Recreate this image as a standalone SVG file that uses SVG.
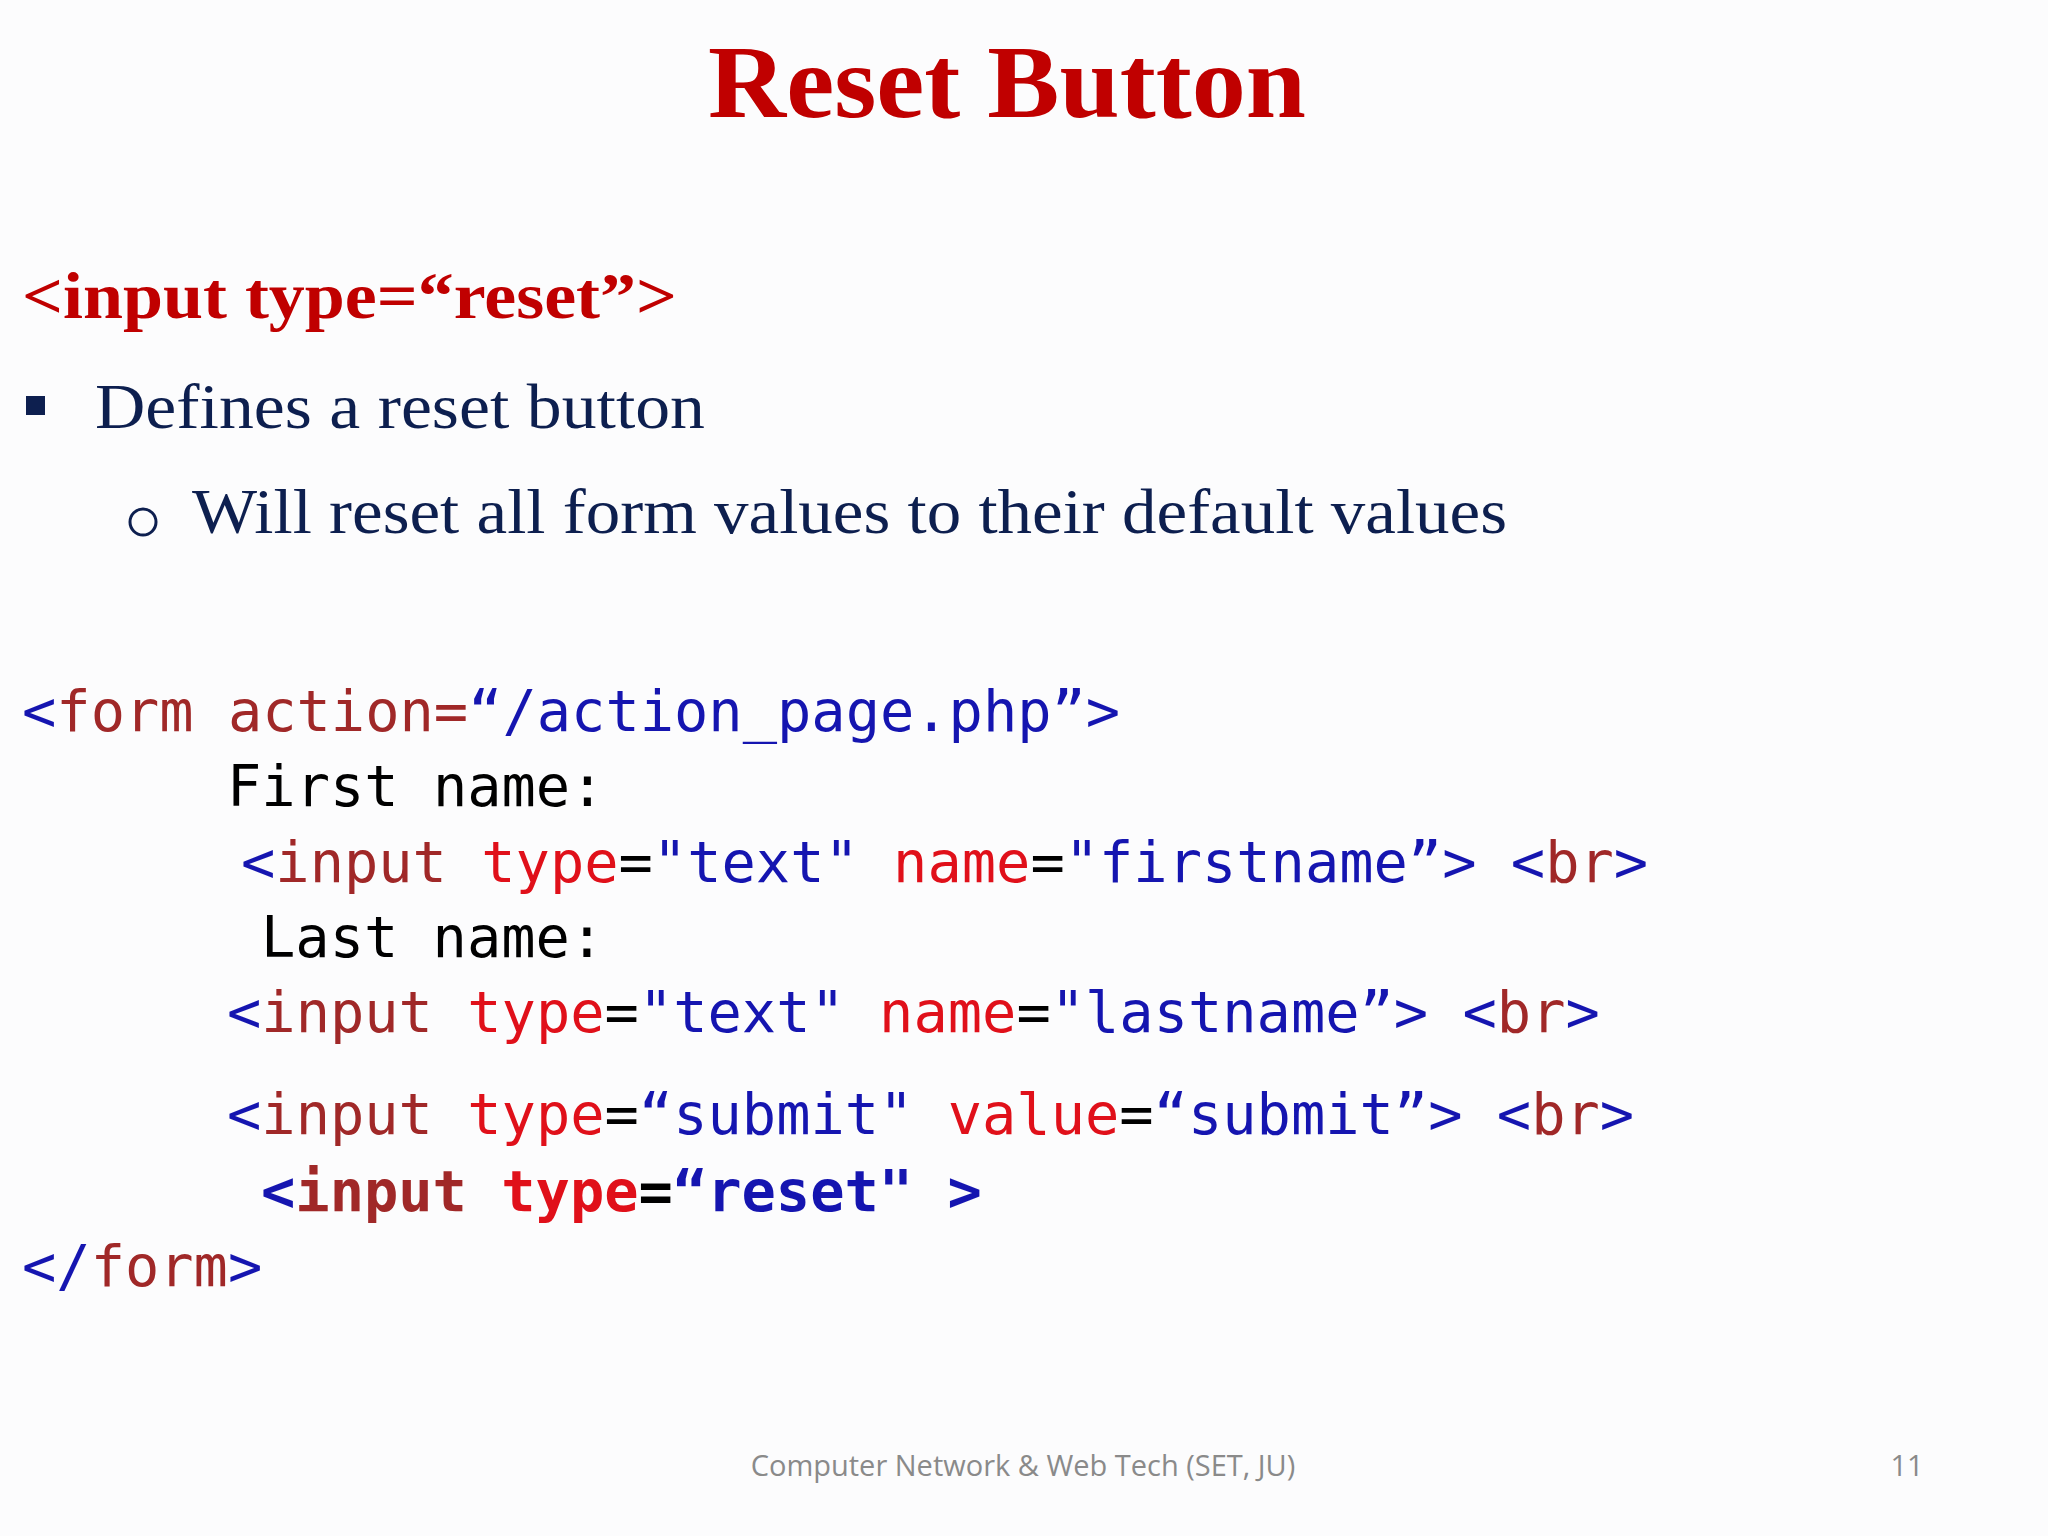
<svg xmlns="http://www.w3.org/2000/svg" width="2048" height="1536" viewBox="0 0 2048 1536">
<style>
.t{font-family:"Liberation Serif",serif}
.c{font-family:"DejaVu Sans Mono","Liberation Mono",monospace;font-size:57px}
.b{fill:#1515b0}.br{fill:#a02828}.r{fill:#e0101a}.k{fill:#000}
</style>
<rect width="2048" height="1536" fill="#fcfcfd"/>
<g id="title"><text class="t" x="708" y="117" textLength="598" lengthAdjust="spacingAndGlyphs" font-size="104" font-weight="bold" fill="#c00000">Reset Button</text></g>
<g id="heading"><text class="t" x="22" y="318" textLength="655" lengthAdjust="spacingAndGlyphs" font-size="66" font-weight="bold" fill="#c00000">&lt;input type=“reset”&gt;</text></g>
<g id="bullets">
<rect x="26" y="396" width="19" height="19" fill="#0d1f4f"/>
<text class="t" x="95" y="428" textLength="610" lengthAdjust="spacingAndGlyphs" font-size="63" fill="#0d1f4f">Defines a reset button</text>
<circle cx="143" cy="522" r="13" fill="none" stroke="#0d1f4f" stroke-width="3"/>
<text class="t" x="192" y="533" textLength="1315" lengthAdjust="spacingAndGlyphs" font-size="63" fill="#0d1f4f">Will reset all form values to their default values</text>
</g>
<g id="code" xml:space="preserve">
<text class="c" x="22" y="731"><tspan class="b">&lt;</tspan><tspan class="br">form action=</tspan><tspan class="b">“/action_page.php”&gt;</tspan></text>
<text class="c k" x="227" y="806">First name:</text>
<text class="c" x="241" y="882"><tspan class="b">&lt;</tspan><tspan class="br">input</tspan> <tspan class="r">type</tspan><tspan class="k">=</tspan><tspan class="b">"text"</tspan> <tspan class="r">name</tspan><tspan class="k">=</tspan><tspan class="b">"firstname”&gt;</tspan> <tspan class="b">&lt;</tspan><tspan class="br">br</tspan><tspan class="b">&gt;</tspan></text>
<text class="c k" x="261" y="957">Last name:</text>
<text class="c" x="227" y="1032"><tspan class="b">&lt;</tspan><tspan class="br">input</tspan> <tspan class="r">type</tspan><tspan class="k">=</tspan><tspan class="b">"text"</tspan> <tspan class="r">name</tspan><tspan class="k">=</tspan><tspan class="b">"lastname”&gt;</tspan> <tspan class="b">&lt;</tspan><tspan class="br">br</tspan><tspan class="b">&gt;</tspan></text>
<text class="c" x="227" y="1134"><tspan class="b">&lt;</tspan><tspan class="br">input</tspan> <tspan class="r">type</tspan><tspan class="k">=</tspan><tspan class="b">“submit"</tspan> <tspan class="r">value</tspan><tspan class="k">=</tspan><tspan class="b">“submit”&gt;</tspan> <tspan class="b">&lt;</tspan><tspan class="br">br</tspan><tspan class="b">&gt;</tspan></text>
<text class="c" x="261" y="1211" font-weight="bold"><tspan class="b">&lt;</tspan><tspan class="br">input</tspan> <tspan class="r">type</tspan><tspan class="k">=</tspan><tspan class="b">“reset"</tspan> <tspan class="b">&gt;</tspan></text>
<text class="c" x="22" y="1286"><tspan class="b">&lt;/</tspan><tspan class="br">form</tspan><tspan class="b">&gt;</tspan></text>
</g>
<g id="footer">
<text x="1023" y="1476" text-anchor="middle" font-family="Open Sans,sans-serif" font-size="29" fill="#8a8a8a">Computer Network &amp; Web Tech (SET, JU)</text>
<text x="1907" y="1476" text-anchor="middle" font-family="Open Sans,sans-serif" font-size="29" fill="#8a8a8a">11</text>
</g>
</svg>
